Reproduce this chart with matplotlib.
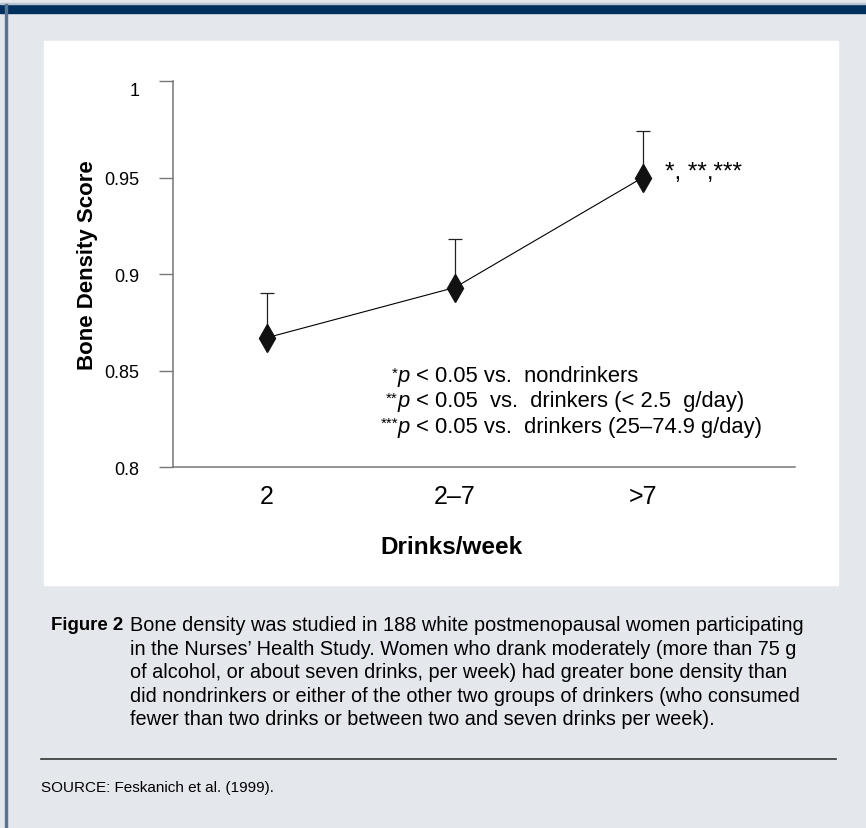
import matplotlib
matplotlib.use("Agg")
import matplotlib.pyplot as plt
import matplotlib.transforms as mtransforms
from matplotlib.patches import Rectangle
from matplotlib.lines import Line2D

# datos del grafico
grupos = ["2", "2\u20137", ">7"]
densidad = [0.867, 0.893, 0.950]
tope_error = [0.890, 0.918, 0.974]

notas_estrellas = ["*", "**", "***"]
notas_texto = ["< 0.05 vs.  nondrinkers",
               "< 0.05  vs.  drinkers (< 2.5  g/day)",
               "< 0.05 vs.  drinkers (25\u201374.9 g/day)"]

leyenda_fig = "Figure 2"
texto_fig = ["Bone density was studied in 188 white postmenopausal women participating",
             "in the Nurses\u2019 Health Study. Women who drank moderately (more than 75 g",
             "of alcohol, or about seven drinks, per week) had greater bone density than",
             "did nondrinkers or either of the other two groups of drinkers (who consumed",
             "fewer than two drinks or between two and seven drinks per week)."]
fuente = "SOURCE: Feskanich et al. (1999)."

W, H = 866, 829
normal = ["Liberation Sans", "DejaVu Sans"]


def px(x, y):
    # pixeles (origen arriba a la izquierda) a fraccion de figura
    return x / W, 1 - y / H


fig = plt.figure(figsize=(W / 100, H / 100), dpi=100)
fig.patch.set_facecolor("#e4e8ed")

# marco: banda superior, linea izquierda y panel blanco
fondo = [Rectangle(px(0, 14), 1, 9 / H, color="#00305e"),
         Rectangle(px(0, 5), 1, 1.5 / H, color="#b8c4d2"),
         Rectangle(px(5, H), 2 / W, (H - 5) / H, color="#5a7594"),
         Rectangle(px(44, 586), (838 - 44) / W, (586 - 42) / H, color="white")]
for r in fondo:
    r.set_transform(fig.transFigure)
    r.set_zorder(-5)
    fig.patches.append(r)

x0, x1, y0, y1 = 173, 795, 82, 468
ax = fig.add_axes([x0 / W, 1 - y1 / H, (x1 - x0) / W, (y1 - y0) / H])
ax.set_zorder(2)
ax.set_facecolor("none")
x = list(range(len(grupos)))
err_sup = [t - d for t, d in zip(tope_error, densidad)]
ax.errorbar(x, densidad, yerr=[[0] * len(x), err_sup], fmt="none",
            ecolor="#222222", elinewidth=0.9, capsize=5, capthick=0.9, zorder=2)
ax.plot(x, densidad, color="black", lw=0.8, marker="d", markersize=14,
        markerfacecolor="#111111", markeredgecolor="#111111", zorder=3)

ax.set_xlim(-0.5, 2.81)
ax.set_ylim(0.8, 1.0)
ax.set_yticks([0.8, 0.85, 0.9, 0.95, 1.0])
ax.set_yticklabels(["0.8", "0.85", "0.9", "0.95", "1"], family=normal, fontsize=13)
ax.set_xticks(x)
ax.set_xticklabels(grupos, family=normal, fontsize=18)
ax.tick_params(axis="x", length=0, pad=12)
ax.tick_params(axis="y", length=10, width=1, color="#777777", pad=14, direction="out")
# la etiqueta "1" queda algo mas abajo que su marca
etq_uno = ax.get_yticklabels()[-1]
etq_uno.set_transform(etq_uno.get_transform() +
                      mtransforms.ScaledTranslation(0, -7 / 100, fig.dpi_scale_trans))
for s in ["top", "right"]:
    ax.spines[s].set_visible(False)
for s in ["left", "bottom"]:
    ax.spines[s].set_color("#777777")
    ax.spines[s].set_linewidth(1.1)

ax.set_ylabel("Bone Density Score", family=normal, fontsize=16, fontweight="bold",
              va="center")
ax.yaxis.set_label_coords((87 - x0) / (x1 - x0), (y1 - 265) / (y1 - y0))
ax.set_xlabel("Drinks/week", family=normal, fontsize=17.5, fontweight="bold",
              va="center")
ax.xaxis.set_label_coords((451 - x0) / (x1 - x0), (y1 - 547) / (y1 - y0))

# marcas de significancia
fig.text(*px(665, 173), "*, **,***", family=normal, fontsize=17.5,
         ha="left", va="center")
for i, (est, txt) in enumerate(zip(notas_estrellas, notas_texto)):
    y = 377 + 25 * i
    fig.text(*px(398, y - 3), est, family=normal, fontsize=11, ha="right", va="center")
    fig.text(*px(398, y), "p", family=normal, fontsize=15.8, style="italic",
             ha="left", va="center")
    fig.text(*px(416, y), txt, family=normal, fontsize=15.8, ha="left", va="center")

# pie de figura
fig.text(*px(123, 626), leyenda_fig, family=normal, fontsize=13.4,
         fontweight="bold", ha="right", va="center")
for i, linea in enumerate(texto_fig):
    fig.text(*px(130, 626 + 23.5 * i), linea, family=normal, fontsize=14.3,
             ha="left", va="center")

fig.add_artist(Line2D([41 / W, 836 / W], [1 - 760 / H] * 2, transform=fig.transFigure,
                      color="#333333", lw=1.2))
fig.text(*px(41, 788), fuente, family=normal, fontsize=11, ha="left", va="center")

fig.savefig("out.png", dpi=100)
